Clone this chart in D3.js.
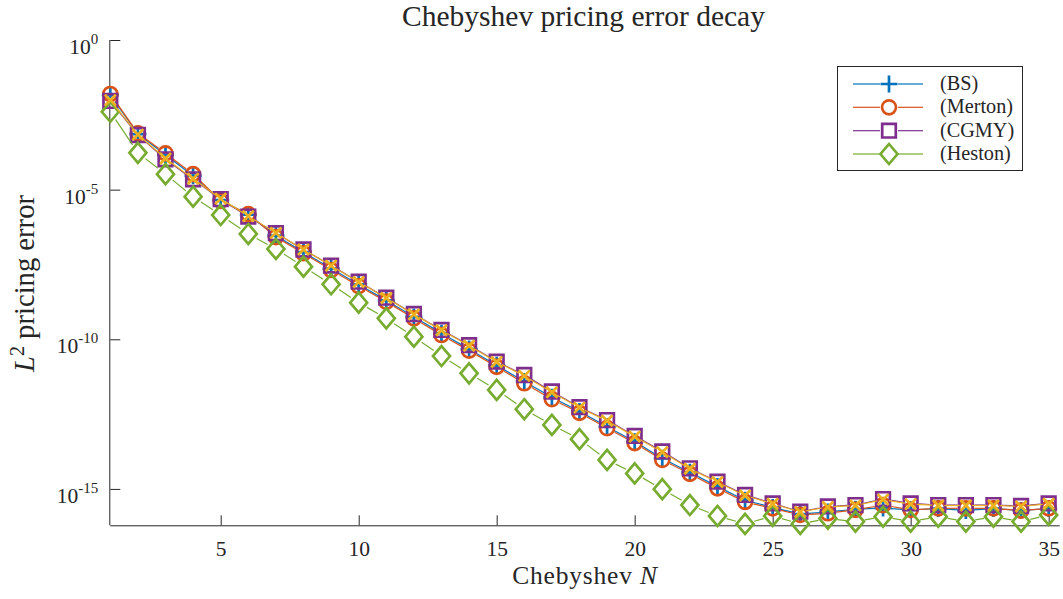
<!DOCTYPE html>
<html>
<head>
<meta charset="utf-8">
<script src="https://cdn.jsdelivr.net/npm/d3@7"></script>
<style>
  html, body { margin: 0; padding: 0; background: #fff; }
  svg { display: block; }
  text { font-family: "Liberation Serif", "DejaVu Serif", serif; fill: #262626; }
</style>
</head>
<body>
<svg id="chart" width="1063" height="599"></svg>
<script>
// Chebyshev polynomial degree N
const degreesN = d3.range(1, 36);

// L2 pricing error per model, one value per N = 1..35
const errBS = [1.45e-2, 7.2e-4, 1.45e-4, 2.9e-5, 4.5e-6, 1.45e-6, 2.9e-7, 8.2e-8, 2.3e-8, 6.8e-9,
  2.0e-9, 5.6e-10, 1.6e-10, 4.7e-11, 1.35e-11, 3.9e-12, 1.15e-12, 3.9e-13, 1.2e-13, 3.8e-14,
  1.05e-14, 3.6e-15, 1.2e-15, 4.2e-16, 2.4e-16, 1.45e-16, 1.7e-16, 2.1e-16, 2.3e-16, 2.0e-16,
  2.2e-16, 1.9e-16, 2.2e-16, 1.9e-16, 2.2e-16];
const errMerton = [1.57e-2, 7.6e-4, 1.64e-4, 3.3e-5, 4.2e-6, 1.53e-6, 2.6e-7, 7.5e-8, 2.07e-8, 6.0e-9,
  1.8e-9, 5.0e-10, 1.39e-10, 4.2e-11, 1.2e-11, 3.4e-12, 1.0e-12, 3.5e-13, 1.07e-13, 3.4e-14,
  9.3e-15, 3.2e-15, 1.05e-15, 3.7e-16, 2.25e-16, 1.35e-16, 1.54e-16, 2.0e-16, 2.9e-16, 2.0e-16,
  2.25e-16, 2.25e-16, 2.25e-16, 1.88e-16, 2.25e-16];
const errCGMY = [9.2e-3, 6.7e-4, 1.03e-4, 2.2e-5, 4.8e-6, 1.25e-6, 3.5e-7, 1.0e-7, 2.9e-8, 8.4e-9,
  2.45e-9, 7.0e-10, 2.05e-10, 6.4e-11, 1.8e-11, 6.4e-12, 1.8e-12, 5.4e-13, 2.0e-13, 5.9e-14,
  1.8e-14, 4.9e-15, 1.75e-15, 6.3e-16, 3.3e-16, 1.74e-16, 2.6e-16, 2.9e-16, 4.6e-16, 3.3e-16,
  2.9e-16, 2.9e-16, 2.9e-16, 2.7e-16, 3.3e-16];
const errHeston = [4.0e-3, 1.7e-4, 3.3e-5, 5.8e-6, 1.42e-6, 3.3e-7, 1.04e-7, 2.67e-8, 6.9e-9, 1.67e-9,
  5.0e-10, 1.22e-10, 2.76e-11, 7.3e-12, 2.04e-12, 4.6e-13, 1.38e-13, 4.6e-14, 9.3e-15, 3.3e-15,
  9.8e-16, 2.9e-16, 1.25e-16, 6.8e-17, 1.25e-16, 6.8e-17, 1.02e-16, 8.1e-17, 1.18e-16, 8.1e-17,
  1.18e-16, 8.1e-17, 1.18e-16, 8.1e-17, 1.35e-16];
// fifth curve, plotted without a legend entry
const errFifth = [9.8e-3, 6.9e-4, 1.1e-4, 2.3e-5, 5.0e-6, 1.3e-6, 3.6e-7, 1.0e-7, 2.9e-8, 8.2e-9,
  2.4e-9, 6.8e-10, 2.0e-10, 6.1e-11, 1.75e-11, 6.0e-12, 1.7e-12, 5.2e-13, 1.9e-13, 5.6e-14,
  1.7e-14, 4.7e-15, 1.7e-15, 6.0e-16, 3.2e-16, 1.7e-16, 2.5e-16, 2.8e-16, 4.4e-16, 3.1e-16,
  2.8e-16, 2.8e-16, 2.8e-16, 2.6e-16, 3.2e-16];

const legendLabels = ["(BS)", "(Merton)", "(CGMY)", "(Heston)"];
const xTickValues = [5, 10, 15, 20, 25, 30, 35];
const yTickExponents = [0, -5, -10, -15];

const svg = d3.select("#chart");

const x = d3.scaleLinear().domain([1, 35.4]).range([110.3, 1059.7]);
const y = d3.scaleLog().domain([Math.pow(10, -16.215), 1]).range([525.3, 40]);

// marker shapes (outline only)
const markerPath = {
  plus: () => "M-8.5,0H8.5M0,-8.5V8.5",
  circle: () => d3.symbol(d3.symbolCircle, Math.PI * 7 * 7)(),
  square: () => "M-6.8,-6.8H6.8V6.8H-6.8Z",
  diamond: () => "M0,-10L8.5,0L0,10L-8.5,0Z",
  cross: () => "M-5.5,-5.5L5.5,5.5M-5.5,5.5L5.5,-5.5"
};

const series = [
  { name: legendLabels[0], values: errBS, color: "#0072BD", marker: "plus", gap: 8 },
  { name: legendLabels[1], values: errMerton, color: "#D95319", marker: "circle", gap: 8.5 },
  { name: legendLabels[2], values: errCGMY, color: "#7E2F8E", marker: "square", gap: 8.5 },
  { name: legendLabels[3], values: errHeston, color: "#77AC30", marker: "diamond", gap: 9.5 },
  { name: null, values: errFifth, color: "#EDB120", marker: "cross", gap: 6 }
];

// axes
const gx = svg.append("g").attr("transform", `translate(0,${y.range()[0]})`)
  .call(d3.axisBottom(x).tickValues(xTickValues).tickSizeInner(-10).tickSizeOuter(0)
    .tickFormat(d3.format("d")));
gx.select(".domain").attr("stroke", "#262626").attr("d", `M${x.range()[0]},0.5H${x.range()[1]}`);
gx.selectAll(".tick line").attr("stroke", "#262626");
gx.selectAll(".tick text").attr("font-size", 21.5).attr("font-family", "Liberation Serif")
  .attr("fill", "#262626").attr("dy", 0).attr("y", 31);

const gy = svg.append("g").attr("transform", `translate(${x.range()[0]},0)`)
  .call(d3.axisLeft(y).tickValues(yTickExponents.map(e => Math.pow(10, e)))
    .tickSizeInner(-10).tickSizeOuter(0).tickFormat(() => ""));
gy.select(".domain").attr("stroke", "#262626").attr("d", `M-0.5,${y.range()[1]}V${y.range()[0]}`);
gy.selectAll(".tick line").attr("stroke", "#262626");
gy.selectAll(".tick").each(function(d) {
  const e = Math.round(Math.log10(d));
  const t = d3.select(this).select("text")
    .attr("x", -12).attr("dy", 0).attr("y", 0).attr("text-anchor", "end")
    .attr("fill", "#262626").attr("font-family", "Liberation Serif");
  t.append("tspan").attr("font-size", 21.5).attr("dy", 13.5).text("10");
  t.append("tspan").attr("font-size", 15).attr("dy", -10).text(String(e));
});

// lines between markers, broken at each marker
function segments(vals, gap) {
  const out = [];
  for (let i = 0; i < vals.length - 1; i++) {
    const x0 = x(degreesN[i]), y0 = y(vals[i]);
    const x1 = x(degreesN[i + 1]), y1 = y(vals[i + 1]);
    const dx = x1 - x0, dy = y1 - y0, len = Math.hypot(dx, dy);
    if (len <= 2 * gap) continue;
    const ux = dx / len, uy = dy / len;
    out.push([x0 + ux * gap, y0 + uy * gap, x1 - ux * gap, y1 - uy * gap]);
  }
  return out;
}

const plot = svg.append("g");
series.forEach(s => {
  const g = plot.append("g");
  g.selectAll("line").data(segments(s.values, s.gap)).join("line")
    .attr("x1", d => d[0]).attr("y1", d => d[1]).attr("x2", d => d[2]).attr("y2", d => d[3])
    .attr("stroke", s.color).attr("stroke-width", 1.2);
  g.selectAll("path").data(s.values).join("path")
    .attr("transform", (v, i) => `translate(${x(degreesN[i])},${y(v)})`)
    .attr("d", markerPath[s.marker]())
    .attr("fill", "none").attr("stroke", s.color).attr("stroke-width", 2.7);
});

// text helpers
function fitWidth(sel, target) {
  const w = sel.node().getComputedTextLength();
  const fs = parseFloat(sel.attr("font-size"));
  sel.attr("font-size", fs * target / w);
  return sel;
}

// title
const title = svg.append("text").attr("x", 583.5).attr("y", 26).attr("text-anchor", "middle")
  .attr("font-size", 24).attr("fill", "#000").text("Chebyshev pricing error decay");
fitWidth(title, 363);

// x label
const xl = svg.append("text").attr("x", 585).attr("y", 584).attr("text-anchor", "middle")
  .attr("font-size", 25.5).attr("letter-spacing", 0.8).attr("fill", "#262626");
xl.append("tspan").text("Chebyshev ");
xl.append("tspan").attr("font-style", "italic").text("N");

// y label
const yl = svg.append("text").attr("transform", "translate(34,283.5) rotate(-90)")
  .attr("text-anchor", "middle").attr("font-size", 24).attr("fill", "#262626");
yl.append("tspan").attr("font-style", "italic").text("L");
yl.append("tspan").attr("font-size", "0.7em").attr("dy", -10).text("2");
yl.append("tspan").attr("dy", 10).text(" pricing error");
fitWidth(yl, 177);

// legend
const lg = svg.append("g");
lg.append("rect").attr("x", 837.5).attr("y", 66.5).attr("width", 185).attr("height", 104)
  .attr("fill", "#fff").attr("stroke", "#262626").attr("stroke-width", 1);
const rowY = [84, 107.3, 130.7, 154];
const legendTexts = [];
series.filter(s => s.name).forEach((s, i) => {
  const ry = rowY[i];
  lg.append("line").attr("x1", 853).attr("x2", 880).attr("y1", ry).attr("y2", ry)
    .attr("stroke", s.color).attr("stroke-width", 1.2);
  lg.append("line").attr("x1", 898).attr("x2", 923).attr("y1", ry).attr("y2", ry)
    .attr("stroke", s.color).attr("stroke-width", 1.2);
  lg.append("path").attr("transform", `translate(889,${ry})`).attr("d", markerPath[s.marker]())
    .attr("fill", "none").attr("stroke", s.color).attr("stroke-width", 2.7);
  legendTexts.push(lg.append("text").attr("x", 940).attr("y", ry + 6).attr("font-size", 18)
    .attr("fill", "#000").text(s.name));
});
// size legend text so "(Merton)" spans its row
const mw = legendTexts[1].node().getComputedTextLength();
legendTexts.forEach(t => t.attr("font-size", 18 * 73 / mw));
</script>
</body>
</html>
